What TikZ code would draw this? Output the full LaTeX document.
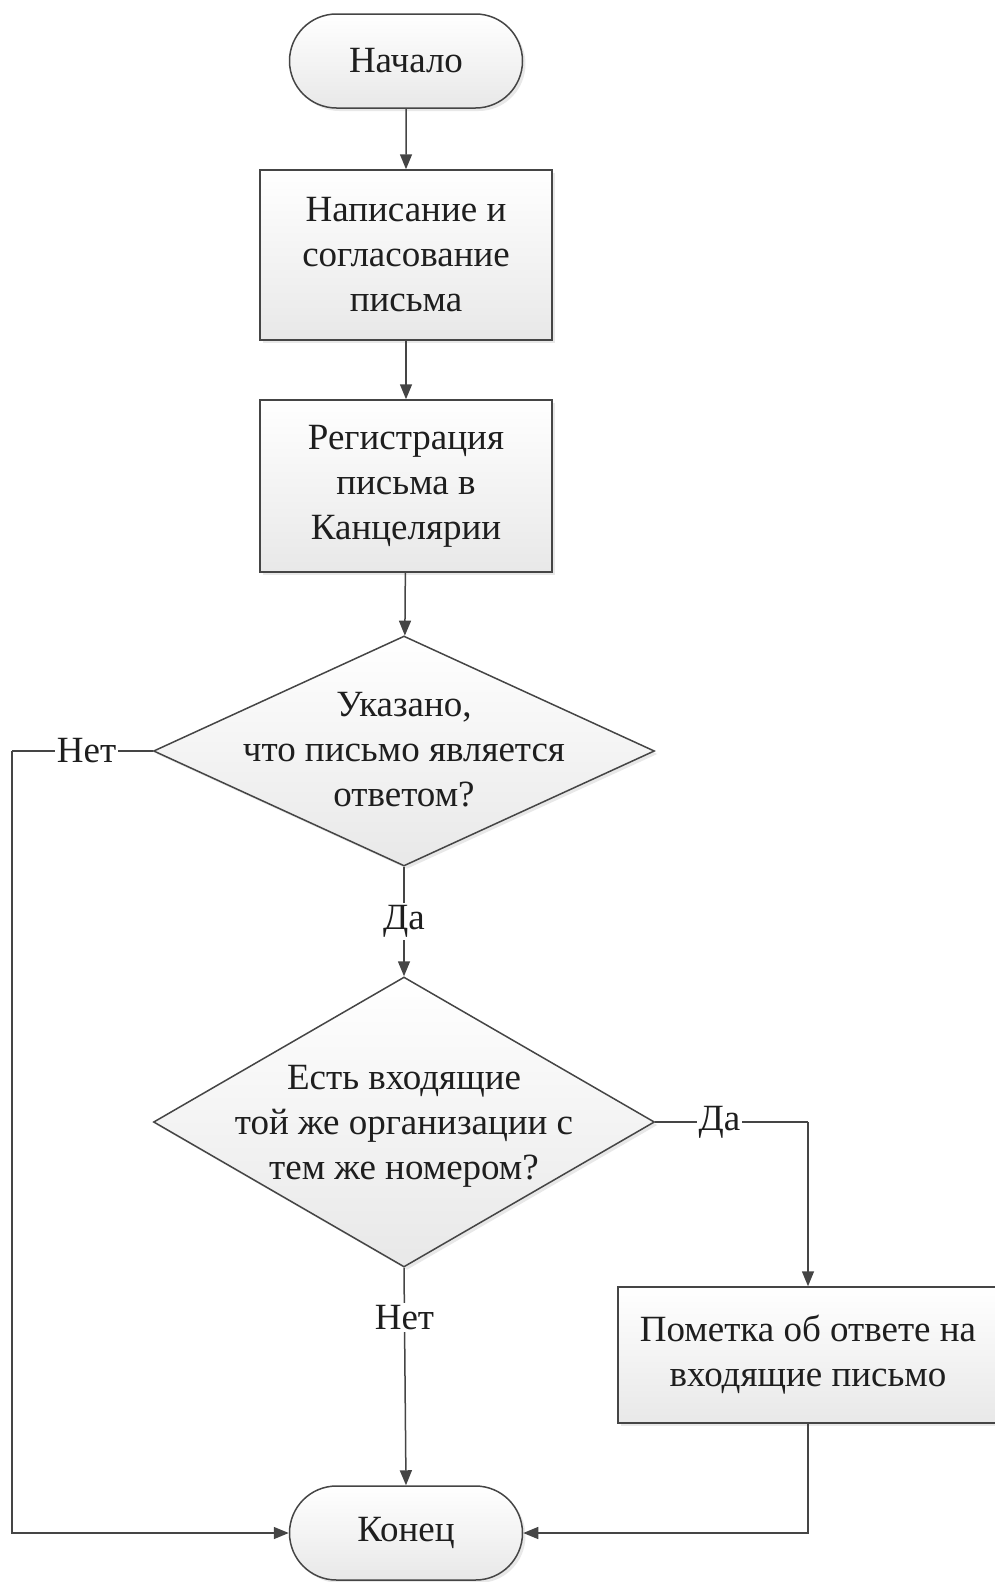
\documentclass[tikz,border=0pt]{standalone}
\usepackage{fontspec}
\setmainfont{Liberation Serif}
\usetikzlibrary{shapes.geometric,shapes.misc,arrows.meta,shadows}
\definecolor{linec}{HTML}{454545}
\definecolor{txtc}{HTML}{1E1E1E}
\begin{document}
\begin{tikzpicture}[x=1pt,y=-1pt,
  font=\fontsize{37}{45}\selectfont, text=txtc,
  base/.style={draw=linec, line width=1.5pt, top color=white, bottom color=black!9,
    drop shadow={opacity=0.18, shadow xshift=3pt, shadow yshift=-3pt}},
  term/.style={base, rounded rectangle, minimum width=233pt, minimum height=94pt, inner sep=0pt},
  proc/.style={base, rectangle, align=center, inner sep=0pt},
  decis/.style={base, diamond, inner sep=0pt},
  conn/.style={draw=linec, line width=1.5pt, -{Triangle[length=15pt,width=12pt]}},
  plain/.style={draw=linec, line width=1.5pt},
  lab/.style={fill=white, inner sep=2pt}]
\useasboundingbox (0,0) rectangle (995,1582);
\node[term] (start) at (406,61) {Начало};
\node[proc, minimum width=292pt, minimum height=170pt] (b1) at (406,255) {Написание и\\согласование\\письма};
\node[proc, minimum width=292pt, minimum height=172pt] (b2) at (406,486) {Регистрация\\письма в\\Канцелярии};
\node[decis, minimum width=501pt, minimum height=230pt,
  label={[align=center, yshift=1pt]center:Указано,\\что письмо является\\ответом?}] (d1) at (404,751) {};
\node[decis, minimum width=501pt, minimum height=290pt,
  label={[align=center, yshift=-4pt]center:Есть входящие\\той же организации с\\тем же номером?}] (d2) at (404,1122) {};
\node[proc, minimum width=380pt, minimum height=136pt] (b3) at (808,1355) {Пометка об ответе на\\входящие письмо};
\node[term] (end) at (406,1533) {Конец};
\coordinate (lc) at (12,751);
\coordinate (rc) at (808,1122);
\draw[conn] (start) -- (b1);
\draw[conn] (b1) -- (b2);
\draw[conn] (b2) -- (d1);
\draw[conn] (d1.south) -- node[lab, pos=0.5] {Да} (d2.north);
\draw[plain] (d1.west) -- node[lab, pos=0.47] {Нет} (lc);
\draw[conn] (lc) |- (end.west);
\draw[plain] (d2.east) -- node[lab, pos=0.42] {Да} (rc);
\draw[conn] (rc) -- (b3.north);
\draw[conn] (d2.south) -- node[lab, pos=0.23] {Нет} (end.north);
\draw[conn] (b3.south) |- (end.east);
\end{tikzpicture}
\end{document}
